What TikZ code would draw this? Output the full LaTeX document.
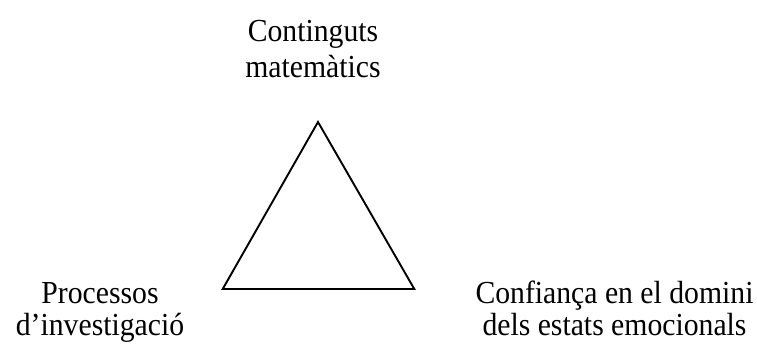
\documentclass[tikz,border=0pt]{standalone}
\usepackage{fontspec}
\setmainfont{Liberation Serif}
\usepackage{tikz}

\begin{document}
\begin{tikzpicture}[x=1pt,y=-1pt,corner/.style={anchor=base,align=center,inner sep=0pt,yscale=1.08,transform shape,font=\fontsize{29.7}{#1}\selectfont}]
\useasboundingbox(0,0)rectangle(757,345);
\coordinate(A)at(318,122);
\coordinate(B)at(222.7,289);
\coordinate(C)at(414.3,289);
\draw[line width=1.9pt,line join=miter](A)--(B)--(C)--cycle;
\node[corner=33.5](cont)at(313,77.5){Continguts\\matemàtics};
\node[corner=29.6](proc)at(100,335){Processos\\d’investigació};
\node[corner=29.6](conf)at(614.5,335){Confiança en el domini\\dels estats emocionals};
\end{tikzpicture}
\end{document}
